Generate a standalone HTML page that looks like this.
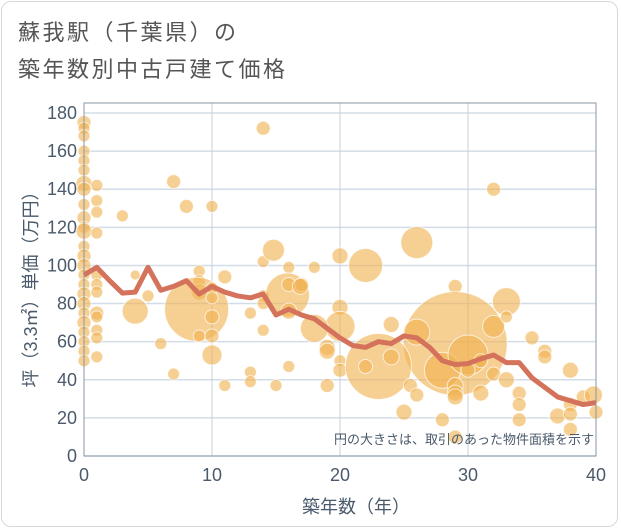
<!DOCTYPE html>
<html><head><meta charset="utf-8">
<style>
html,body{margin:0;padding:0;background:#fff;}
#wrap{position:relative;width:621px;height:530px;overflow:hidden;font-family:"Liberation Sans","Noto Sans CJK JP",sans-serif;}
#frame{position:absolute;left:1px;top:1px;width:617px;height:526px;border:1px solid #d5d9de;border-radius:10px;box-sizing:border-box;}
.t{position:absolute;left:18px;font-size:22px;color:#555;letter-spacing:2.5px;}
</style></head>
<body>
<div id="wrap">
<div id="frame"></div>
<div class="t" style="top:15px">蘇我駅（千葉県）の</div>
<div class="t" style="top:52px">築年数別中古戸建て価格</div>
<svg id="c" width="621" height="530" style="position:absolute;left:0;top:0"></svg>
</div>
<script>
const xTicks=[0,10,20,30,40];
const yTicks=[0,20,40,60,80,100,120,140,160,180];
const bubbleX=[0,0,0,0,0,0,0,0,0,0,0,0,0,0,0,0,0,0,0,0,0,0,0,0,0,
1,1,1,1,1,1,1,1,1,1,1,1,3,4,4,5,6,7,7,8,9,9,9,8.8,9,10,10,10,10,10,10,11,11,13,13,13,14,14,14,14,14,14.8,15,16,15.9,16,16,16,17,
18,16.9,20,22,26,32,29,29,33,32,33,20,20,18,19,19,20,20,19,23,22,24,24,26,25.5,26,25,28,28,29,29,29,30,30,31,31,32,33,34,34,34,29,35,36,36,38,37,38,38,38,39,39.8,40];
const bubbleY=[175,172,168,160,155,150,143,140,132,125,120,118,110,105,100,95,90,85,80,75,70,65,60,55,50,
142,134,128,117,95,90,86,75,73,66,62,52,126,95,76,84,59,144,43,131,97,92,86,77,63,131,88,83,73,63,53,94,37,75,44,39,172,102,84,80,66,108,37,99,84.5,76,90,47,90,
99,89,105,100,112,140,89,59,81,68,73,78,68,67,57,55,50,45,37,47,47,52,69,65,37,32,23,19,45,37,33,31,53,45,50,33,43,40,33,27,19,10,62,55,52,45,21,27,22,14,31,32,23];
const bubbleR=[7,6,6,6,6,6,8,7,6,7,6,8,6,7,7,6,6,7,7,6,7,6,6,6,6,
6,6,6,6,6,6,6,7,6,6,6,6,6,5,13,6,6,7,6,7,6,6,8,32,6,6,6,6,7,7,10,7,6,6,6,6,7,6,6,6,6,11,6,6,22,8,7,6,7,
6,8,8,17,16,7,7,52,14,11,6,8,15,14,8,8,6,7,7,33,7,8,8,13,7,7,8,7,18,8,8,8,20,7,7,8,7,8,7,7,7,7,7,7,7,8,8,7,7,7,7,9,7];
const lineYears=[0,1,2,3,4,5,6,7,8,9,10,11,12,13,14,15,16,17,18,19,20,21,22,23,24,25,26,27,28,29,30,31,32,33,34,35,36,37,38,39,40];
const lineValues=[95,99,92,85.5,86,99,87,89,92,85,89,86,84,83,85,74,77,74,72,67,62,58,57,60,59,63,62,57,50,48,48.5,51,53,49,49,41,36,31,29,27,28];

const NS="http://www.w3.org/2000/svg";
const svg=document.getElementById('c');
const X0=84,X1=596,Y0=456,YT=113,TOP=103;
const sx=v=>X0+(v-0)/(40-0)*(X1-X0);
const sy=v=>Y0-(v-0)/(180-0)*(Y0-YT);
function mk(tag,attrs){const e=document.createElementNS(NS,tag);for(const k in attrs)e.setAttribute(k,attrs[k]);svg.appendChild(e);return e;}
const bg=mk('rect',{x:X0,y:TOP,width:X1-X0,height:Y0-TOP,fill:'#fff'});


yTicks.forEach(v=>{
 const g=mk('line',{x1:X0,x2:X1,y1:sy(v),y2:sy(v),stroke:'#d3dde7','stroke-width':1.5});
 
 
 const t=mk('text',{x:X0-7,y:sy(v)+6,'text-anchor':'end','font-size':18,fill:'#4b5a6b'});
 t.textContent=v;
 
 
});
xTicks.forEach(v=>{
 const g=mk('line',{x1:sx(v),x2:sx(v),y1:TOP,y2:Y0,stroke:'#c5d0dc','stroke-width':1});
 
 
 const t=mk('text',{x:sx(v),y:Y0+25,'text-anchor':'middle','font-size':18,fill:'#4b5a6b'});
 t.textContent=v;
 
 
});
for(let i=0;i<bubbleX.length;i++){
 const c=mk('circle',{cx:sx(bubbleX[i]),cy:sy(bubbleY[i]),r:bubbleR[i],fill:'rgba(240,178,80,0.62)',stroke:'rgba(255,255,255,0.7)','stroke-width':1});
 
 
}
const pts=lineYears.map((y,i)=>sx(y)+','+sy(lineValues[i])).join(' ');
const pl=mk('polyline',{points:pts,fill:'none',stroke:'#d4725c','stroke-width':5,'stroke-linejoin':'round'});


const bx=mk('rect',{x:X0,y:TOP,width:X1-X0,height:Y0-TOP,fill:'none',stroke:'#8a96a3','stroke-width':1});


const note=mk('text',{x:X1-2,y:444,'text-anchor':'end','font-size':13,fill:'#4b5a6b'});
note.textContent='円の大きさは、取引のあった物件面積を示す';


const xt=mk('text',{x:356,y:513,'text-anchor':'middle','font-size':18,fill:'#4b5a6b'});
xt.textContent='築年数（年）';


const yt=mk('text',{x:0,y:0,'text-anchor':'middle','font-size':18,fill:'#4b5a6b',transform:'translate(37,285) rotate(-90)'});
yt.textContent='坪（3.3㎡）単価（万円）';


</script>
</body></html>
